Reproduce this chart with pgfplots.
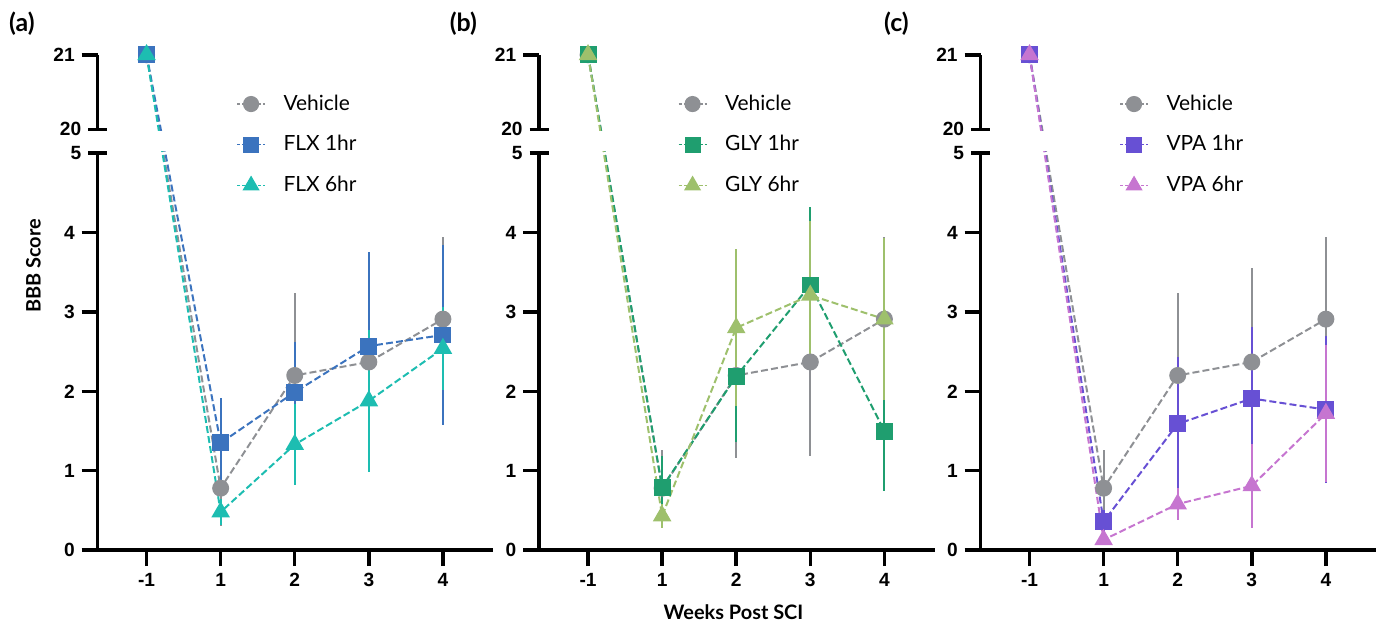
\documentclass[border=0pt]{standalone}
\usepackage{pgfplots}
\pgfplotsset{compat=1.18}
\usepackage{pgfplotstable}
\usepackage{fontspec}
\setmainfont{Lato}
\newfontfamily\arialfont{Liberation Sans}

\definecolor{veh}{HTML}{8E9094}
\definecolor{flxA}{HTML}{3B73BE}
\definecolor{flxB}{HTML}{1DBDB1}
\definecolor{glyA}{HTML}{1F9E6F}
\definecolor{glyB}{HTML}{9EC06C}
\definecolor{vpaA}{HTML}{6750D4}
\definecolor{vpaB}{HTML}{C675D0}

% pos 0 = week -1, then weeks 1..4; y = mean BBB score, err = error bar
\pgfplotstableread{
pos y err
0 21 0
1 0.78 0.48
2 2.20 1.04
3 2.37 1.18
4 2.91 1.03
}\vehicle
\pgfplotstableread{
pos y err
0 21 0
1 1.35 0.56
2 1.99 0.63
3 2.57 1.19
4 2.71 1.13
}\flxone
\pgfplotstableread{
pos y err
0 21 0
1 0.48 0.16
2 1.33 0.51
3 1.88 0.89
4 2.54 0.52
}\flxsix
\pgfplotstableread{
pos y err
0 21 0
1 0.79 0.40
2 2.19 0.83
3 3.34 0.98
4 1.50 0.76
}\glyone
\pgfplotstableread{
pos y err
0 21 0
1 0.43 0.15
2 2.80 0.99
3 3.21 0.93
4 2.91 1.02
}\glysix
\pgfplotstableread{
pos y err
0 21 0
1 0.36 0.15
2 1.59 0.84
3 1.91 0.90
4 1.77 0.93
}\vpaone
\pgfplotstableread{
pos y err
0 21 0
1 0.13 0.05
2 0.58 0.20
3 0.81 0.53
4 1.72 0.86
}\vpasix

\pgfplotsset{
  bbb/.style={
    scale only axis, width=198.5pt, height=248.5pt,
    xmin=-0.66, xmax=4.68, ymin=0, ymax=6.24,
    clip=false,
    axis lines=left,
    axis line style={-, line width=1.75pt},
    y axis line style={draw=none},
    xtick={0,1,2,3,4}, xticklabels={-1,1,2,3,4},
    ytick={0,1,2,3,4,6.24}, yticklabels={0,1,2,3,4,21},
    extra y ticks={5,5.3}, extra y tick labels={5,20},
    extra y tick style={tick align=center, major tick length=9.5pt},
    tick align=outside, major tick length=8pt,
    tick style={line width=1.75pt, black},
    ticklabel style={font=\arialfont\bfseries\fontsize{9.6}{10}\selectfont},
    % upper segment of the broken axis: 20..21 drawn just above 5
    y filter/.expression={y>10 ? 5.3+(y-20)*0.94 : y},
    legend style={at={(0.35,0.928)}, anchor=north west, draw=none, fill=none,
      inner sep=0pt, row sep=7.2pt, column sep=7pt,
      font=\fontsize{10.5}{12}\selectfont},
    legend cell align=left,
    legend image code/.code={\draw[mark repeat=2,mark phase=2,#1,
      dash pattern=on 1.6pt off 1pt, line width=0.6pt]
      plot coordinates {(0pt,0pt) (7pt,0pt) (14pt,0pt)};},
  },
  series/.style={line width=1pt, dash pattern=on 3.5pt off 1.6pt,
    mark options={solid},
    error bars/.cd, y dir=both, y explicit, error mark=none,
    error bar style={solid, line width=1pt}},
  veh/.style={color=veh, mark=*, mark size=3.75pt, series},
  sq/.style={color=#1, mark=square*, mark size=3.75pt, series},
  tri/.style={color=#1, mark=triangle*, mark size=4.4pt, series},
}

\newcommand{\breakaxis}{%
  \fill[white] (axis cs:-0.6,5.025) rectangle (axis cs:0.7,5.275);
  \draw[line width=1.75pt, line cap=rect] (axis cs:-0.66,0) -- (axis cs:-0.66,5);
  \draw[line width=1.75pt] (axis cs:-0.66,5.3) -- (axis cs:-0.66,6.24);
}

\begin{document}
\begin{tikzpicture}
\path (-49pt,-39pt) rectangle (640pt,276pt);

\begin{axis}[bbb]
\addplot[veh] table[x=pos, y=y, y error=err] {\vehicle};
\addplot[sq=flxA] table[x=pos, y=y, y error=err] {\flxone};
\addplot[tri=flxB] table[x=pos, y=y, y error=err] {\flxsix};
\legend{Vehicle, FLX 1hr, FLX 6hr}
\breakaxis
\end{axis}

\begin{axis}[bbb, at={(221.5pt,0pt)}]
\addplot[veh] table[x=pos, y=y, y error=err] {\vehicle};
\addplot[sq=glyA] table[x=pos, y=y, y error=err] {\glyone};
\addplot[tri=glyB] table[x=pos, y=y, y error=err] {\glysix};
\legend{Vehicle, GLY 1hr, GLY 6hr}
\breakaxis
\end{axis}

\begin{axis}[bbb, at={(443pt,0pt)}]
\addplot[veh] table[x=pos, y=y, y error=err] {\vehicle};
\addplot[sq=vpaA] table[x=pos, y=y, y error=err] {\vpaone};
\addplot[tri=vpaB] table[x=pos, y=y, y error=err] {\vpasix};
\legend{Vehicle, VPA 1hr, VPA 6hr}
\breakaxis
\end{axis}

\node[font=\bfseries\fontsize{12.5}{13}\selectfont] at (-38pt,264pt) {(a)};
\node[font=\bfseries\fontsize{12.5}{13}\selectfont] at (183.5pt,264pt) {(b)};
\node[font=\bfseries\fontsize{12.5}{13}\selectfont] at (400.75pt,264pt) {(c)};
\node[font=\bfseries\fontsize{10}{12}\selectfont, rotate=90] at (-32.25pt,142.5pt) {BBB Score};
\node[font=\bfseries\fontsize{10}{12}\selectfont] at (319pt,-31pt) {Weeks Post SCI};
\end{tikzpicture}
\end{document}
